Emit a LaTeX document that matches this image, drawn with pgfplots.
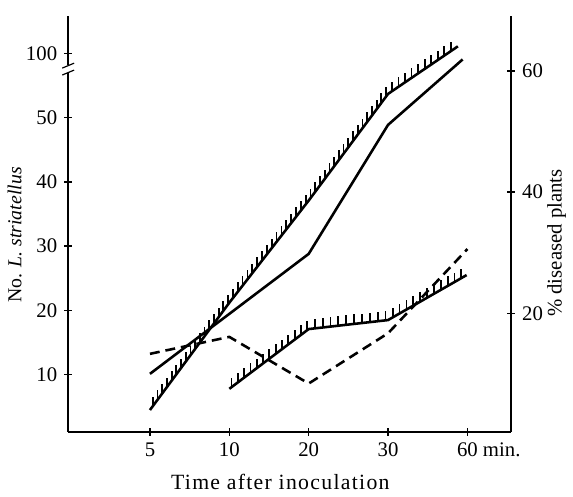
\documentclass[border=0pt]{standalone}
\usepackage{fontspec}
\setmainfont{Liberation Serif}
\newfontfamily\labelfont[LetterSpace=6]{Liberation Serif}
\usepackage{pgfplots}
\usepackage{pgfplotstable}
\pgfplotsset{compat=1.18}
\usetikzlibrary{decorations.markings}

% hatched line: short vertical strokes on the upper side
\tikzset{hatched/.style={line width=1.3pt, postaction={decorate},
    decoration={markings, mark=between positions 0.01 and 0.99 step 4pt with
      {\pgftransformresetnontranslations \draw[line width=0.9pt] (0,0) -- (0,4.8pt);}}}}

% No. L. striatellus (left axis, 100 drawn at 60)
\pgfplotstableread{
x y
0 4.5
1 21.2
2 37.1
3 53.7
3.88 61.1
}\upperhatch
\pgfplotstableread{
x y
1 7.8
2 17.1
3 18.5
3.99 25.5
}\lowerhatch
% % diseased plants (right axis)
\pgfplotstableread{
x y
0 10.0
2 29.8
3 51.1
3.94 61.9
}\solidline
\pgfplotstableread{
x y
0 13.3
1 16.1
2 8.4
3 16.7
4 30.6
}\dashedline

\begin{document}
\fontsize{10.5}{12}\selectfont
\begin{tikzpicture}
  \pgfplotsset{every axis/.append style={
      scale only axis, width=224pt, height=210.5pt,
      xmin=-1.03, xmax=4.55, disabledatascaling,
      tick align=inside, major tick length=3.8pt,
      every tick/.style={line width=0.7pt, black},
      /pgf/number format/assume math mode=true,
      tick label style={font=\fontsize{10.5}{12}\selectfont},
      label style={font=\labelfont\fontsize{11}{13}\selectfont},
      clip=false}}
  \begin{axis}[
      axis x line=bottom, axis y line=left,
      axis line style={-, line width=0.8pt},
      ymin=1.08, ymax=65.85,
      ytick={10,20,30,40,50,60}, yticklabels={10,20,30,40,50,100},
      xtick={0,1,2,3,4}, xticklabels={5,10,20,30,{60\rlap{ min.}}},
      ylabel={No. \textit{L. striatellus}},
      ylabel style={at={(axis description cs:-0.121,0.473)}, anchor=center, rotate=0,
        font=\fontsize{10}{12}\selectfont},
      xlabel={Time after inoculation},
      xlabel style={at={(axis description cs:0.479,-0.12)}, anchor=center},
    ]
    \addplot[hatched, black] table[x=x, y=y] {\upperhatch};
    \addplot[hatched, black] table[x=x, y=y] {\lowerhatch};
    % axis break on the left axis
    \coordinate (brk) at (axis description cs:0,0.872);
    \fill[white] ([xshift=-2pt,yshift=-2pt]brk) rectangle ([xshift=2pt,yshift=2pt]brk);
    \draw[line width=0.6pt] ([xshift=-3pt,yshift=-3pt]brk) -- ([xshift=3pt,yshift=-0.5pt]brk);
    \draw[line width=0.6pt] ([xshift=-3pt,yshift=0.5pt]brk) -- ([xshift=3pt,yshift=3pt]brk);
    \path (axis description cs:-0.154,-0.145) rectangle (axis description cs:1.125,1.038);
  \end{axis}
  \begin{axis}[
      axis x line=none, axis y line=right,
      axis line style={-, line width=0.8pt},
      ymin=0.4, ymax=69.1,
      ytick={20,40,60},
      ylabel={\% diseased plants},
      ylabel style={at={(axis description cs:1.103,0.454)}, anchor=center, rotate=0},
    ]
    \addplot[black, line width=1.3pt] table[x=x, y=y] {\solidline};
    \addplot[black, line width=1.3pt, dash pattern=on 5pt off 3pt] table[x=x, y=y] {\dashedline};
  \end{axis}
\end{tikzpicture}
\end{document}
